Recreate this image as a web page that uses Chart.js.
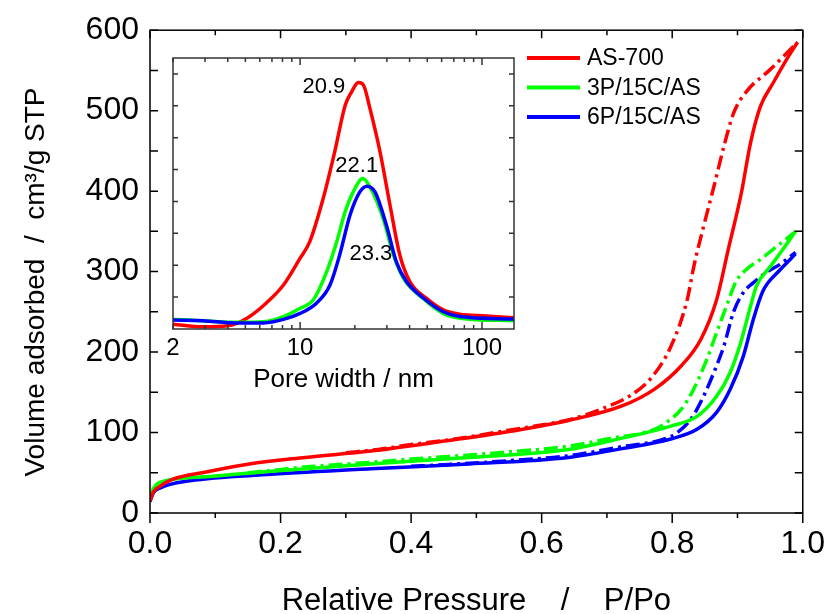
<!DOCTYPE html>
<html>
<head>
<meta charset="utf-8">
<title>N2 isotherms</title>
<script src="https://cdn.jsdelivr.net/npm/chart.js@4.4.1/dist/chart.umd.min.js"></script>
<style>
  body { margin: 0; background: #fff; }
  #wrap { position: relative; width: 837px; height: 614px; }
  #main { position: absolute; left: 0; top: 0; }
  #inset { position: absolute; left: 140px; top: 50px; }
</style>
</head>
<body>
<div id="wrap">
  <canvas id="main" width="837" height="614"></canvas>
  <canvas id="inset" width="400" height="350"></canvas>
</div>
<script>
// ===== data =====
const P_TICKS = [0, 0.2, 0.4, 0.6, 0.8, 1.0];
const V_TICKS = [0, 100, 200, 300, 400, 500, 600];
const D_TICKS = [2, 10, 100];
const SAMPLES = ['AS-700', '3P/15C/AS', '6P/15C/AS'];
const SAMPLE_COLORS = ['#ff0000', '#00ff00', '#0000ff'];

// AS-700 isotherm
const AS700_ADS_P = [0, 0.005, 0.015, 0.035, 0.086, 0.152, 0.238, 0.338, 0.439, 0.541, 0.641, 0.723, 0.773, 0.814, 0.844, 0.868, 0.886, 0.906, 0.920, 0.935, 0.955, 0.974, 0.992];
const AS700_ADS_V = [15, 26, 33, 42, 51, 61, 69, 77, 88, 100, 115, 133, 154, 183, 216, 265, 328, 398, 460, 505, 535, 562, 585];
const AS700_DES_P = [0.30, 0.35, 0.40, 0.45, 0.50, 0.55, 0.59, 0.647, 0.697, 0.738, 0.768, 0.798, 0.823, 0.833, 0.848, 0.864, 0.879, 0.894, 0.914, 0.950, 0.992];
const AS700_DES_V = [75, 79, 85, 90, 96, 103, 108, 117, 131, 147, 168, 207, 265, 306, 356, 406, 455, 497, 524, 551, 585];

// 3P/15C/AS isotherm
const P3_ADS_P = [0, 0.005, 0.015, 0.086, 0.186, 0.338, 0.489, 0.641, 0.723, 0.798, 0.838, 0.868, 0.889, 0.905, 0.920, 0.929, 0.950, 0.970, 0.989];
const P3_ADS_V = [20, 30, 38, 45, 52, 61, 69, 79, 93, 108, 120, 145, 175, 212, 257, 282, 306, 328, 350];
const P3_DES_P = [0.15, 0.186, 0.25, 0.338, 0.40, 0.489, 0.55, 0.641, 0.70, 0.773, 0.792, 0.814, 0.833, 0.853, 0.868, 0.883, 0.898, 0.914, 0.935, 0.955, 0.974, 0.989];
const P3_DES_V = [50, 53, 58, 63, 67, 72, 76, 83, 92, 104, 113, 129, 154, 191, 224, 257, 288, 303, 315, 328, 340, 350];

// 6P/15C/AS isotherm
const P6_ADS_P = [0, 0.005, 0.015, 0.061, 0.186, 0.338, 0.489, 0.641, 0.723, 0.798, 0.838, 0.868, 0.889, 0.909, 0.924, 0.939, 0.965, 0.989];
const P6_ADS_V = [14, 25, 31, 40, 48, 55, 61, 69, 80, 92, 104, 125, 154, 195, 240, 276, 302, 322];
const P6_DES_P = [0.40, 0.45, 0.55, 0.64, 0.72, 0.788, 0.808, 0.829, 0.848, 0.864, 0.879, 0.894, 0.909, 0.924, 0.944, 0.965, 0.989];
const P6_DES_V = [58, 60, 65, 71, 82, 92, 100, 117, 145, 175, 207, 250, 274, 286, 299, 309, 324];

// inset: pore size distribution (arbitrary units)
const AS700_PSD_D = [2, 2.92, 4.0, 5.1, 6.5, 8.1, 10.0, 11.3, 13.4, 15.5, 17.7, 19.2, 20.9, 22.3, 24.2, 27.5, 31.2, 35.3, 40.1, 49.6, 61.2, 75.6, 106, 150];
const AS700_PSD_Y = [0.15, 0.07, 0.10, 0.34, 0.81, 1.38, 2.22, 2.74, 4.10, 5.56, 7.02, 7.44, 7.73, 7.65, 6.92, 5.56, 3.89, 2.33, 1.49, 0.96, 0.60, 0.46, 0.41, 0.35];
const P3_PSD_D = [2, 2.92, 4.48, 6.3, 8.1, 10.0, 11.8, 14.0, 15.9, 17.7, 19.6, 22.1, 24.2, 28.6, 32.6, 37.0, 47.4, 61.2, 75.6, 150];
const P3_PSD_Y = [0.30, 0.26, 0.21, 0.23, 0.39, 0.65, 0.91, 1.80, 2.74, 3.68, 4.30, 4.72, 4.46, 3.47, 2.32, 1.59, 0.96, 0.49, 0.34, 0.26];
const P6_PSD_D = [2, 2.92, 4.48, 6.3, 8.1, 10.0, 12.3, 14.6, 16.5, 18.8, 21.3, 23.3, 25.8, 29.8, 33.8, 38.5, 47.4, 61.2, 75.6, 150];
const P6_PSD_Y = [0.28, 0.26, 0.19, 0.19, 0.30, 0.49, 0.81, 1.38, 2.32, 3.57, 4.30, 4.48, 4.30, 3.26, 2.11, 1.48, 0.98, 0.54, 0.39, 0.31];
const PEAK_LABELS = ['20.9', '22.1', '23.3'];

const FONT = "'Liberation Sans', Arial, Helvetica, sans-serif";

function toXY(xs, ys) {
  return xs.map((x, i) => ({ x: x, y: ys[i] }));
}

function lineSet(data, color, dashed) {
  return {
    data: data,
    borderColor: color,
    borderWidth: 3.5,
    borderDash: dashed ? [14, 5, 3, 5] : [],
    pointRadius: 0,
    fill: false,
    cubicInterpolationMode: 'monotone',
  };
}

// ===== main chart: frame, ticks, titles, legend =====
const mainDecor = {
  id: 'mainDecor',
  afterDraw(chart) {
    const { ctx, chartArea: a, scales: { x, y } } = chart;
    ctx.save();
    ctx.strokeStyle = '#000';
    ctx.lineWidth = 1.5;
    ctx.strokeRect(a.left, a.top, a.right - a.left, a.bottom - a.top);

    ctx.beginPath();
    P_TICKS.forEach((v, i) => {
      const px = x.getPixelForValue(v);
      ctx.moveTo(px, a.bottom); ctx.lineTo(px, a.bottom + 10);
      ctx.moveTo(px, a.top); ctx.lineTo(px, a.top + 8);
      if (i < P_TICKS.length - 1) {
        const pm = x.getPixelForValue((v + P_TICKS[i + 1]) / 2);
        ctx.moveTo(pm, a.bottom); ctx.lineTo(pm, a.bottom + 5);
        ctx.moveTo(pm, a.top); ctx.lineTo(pm, a.top + 5);
      }
    });
    V_TICKS.forEach((v, i) => {
      const marks = [v];
      if (i < V_TICKS.length - 1) marks.push((v + V_TICKS[i + 1]) / 2);
      marks.forEach(m => {
        const py = y.getPixelForValue(m);
        ctx.moveTo(a.left, py); ctx.lineTo(a.left + 8, py);
        ctx.moveTo(a.right, py); ctx.lineTo(a.right - 8, py);
      });
    });
    ctx.stroke();

    // axis titles
    ctx.fillStyle = '#000';
    ctx.font = `31px ${FONT}`;
    ctx.textAlign = 'center';
    ctx.textBaseline = 'alphabetic';
    ctx.fillText('Relative Pressure    /    P/Po', (a.left + a.right) / 2, 610);

    ctx.save();
    ctx.translate(36, 282);
    ctx.rotate(-Math.PI / 2);
    ctx.font = `28px ${FONT}`;
    ctx.textBaseline = 'middle';
    ctx.fillText('Volume adsorbed  /  cm\u00b3/g STP', 0, 0);
    ctx.restore();

    // legend
    ctx.font = `23px ${FONT}`;
    ctx.textAlign = 'left';
    ctx.textBaseline = 'middle';
    ctx.lineWidth = 4;
    SAMPLES.forEach((name, i) => {
      const ly = 58 + i * 29.5;
      ctx.strokeStyle = SAMPLE_COLORS[i];
      ctx.beginPath();
      ctx.moveTo(527, ly); ctx.lineTo(580, ly);
      ctx.stroke();
      ctx.fillText(name, 587, ly + 1);
    });
    ctx.restore();
  }
};

new Chart(document.getElementById('main'), {
  type: 'line',
  data: {
    datasets: [
      lineSet(toXY(AS700_ADS_P, AS700_ADS_V), SAMPLE_COLORS[0], false),
      lineSet(toXY(AS700_DES_P, AS700_DES_V), SAMPLE_COLORS[0], true),
      lineSet(toXY(P3_ADS_P, P3_ADS_V), SAMPLE_COLORS[1], false),
      lineSet(toXY(P3_DES_P, P3_DES_V), SAMPLE_COLORS[1], true),
      lineSet(toXY(P6_ADS_P, P6_ADS_V), SAMPLE_COLORS[2], false),
      lineSet(toXY(P6_DES_P, P6_DES_V), SAMPLE_COLORS[2], true),
    ]
  },
  options: {
    responsive: false,
    animation: false,
    devicePixelRatio: 1,
    layout: { padding: { left: 0, right: 27, top: 29, bottom: 0 } },
    plugins: { legend: { display: false }, tooltip: { enabled: false } },
    scales: {
      x: {
        type: 'linear', min: 0, max: 1,
        afterBuildTicks: s => { s.ticks = P_TICKS.map(v => ({ value: v })); },
        afterFit: s => { s.height = 101; },
        grid: { display: false, drawTicks: false },
        border: { display: false },
        ticks: { color: '#000', font: { family: FONT, size: 32 }, padding: 12, maxRotation: 0, autoSkip: false,
                 callback: v => v.toFixed(1) },
      },
      y: {
        type: 'linear', min: 0, max: 600,
        afterBuildTicks: s => { s.ticks = V_TICKS.map(v => ({ value: v })); },
        afterFit: s => { s.width = 150; },
        grid: { display: false, drawTicks: false },
        border: { display: false },
        ticks: { color: '#000', font: { family: FONT, size: 32 }, padding: 11, autoSkip: false },
      }
    }
  },
  plugins: [mainDecor]
});

// ===== inset: pore size distribution =====
const insetDecor = {
  id: 'insetDecor',
  afterDraw(chart) {
    const { ctx, chartArea: a, scales: { x, y } } = chart;
    ctx.save();
    ctx.strokeStyle = '#333';
    ctx.lineWidth = 1.5;
    ctx.strokeRect(a.left, a.top, a.right - a.left, a.bottom - a.top);

    ctx.beginPath();
    [1, 10, 100].forEach(dec => {
      for (let m = 1; m <= 9; m++) {
        const d = dec * m;
        if (d < x.min || d > x.max) continue;
        const px = x.getPixelForValue(d);
        const len = m === 1 ? 7 : 4;
        ctx.moveTo(px, a.bottom); ctx.lineTo(px, a.bottom - len);
        ctx.moveTo(px, a.top); ctx.lineTo(px, a.top + len);
      }
    });
    for (let v = 1; v < y.max; v++) {
      const py = y.getPixelForValue(v);
      ctx.moveTo(a.left, py); ctx.lineTo(a.left + 5, py);
      ctx.moveTo(a.right, py); ctx.lineTo(a.right - 5, py);
    }
    ctx.stroke();

    ctx.fillStyle = '#000';
    ctx.font = `26px ${FONT}`;
    ctx.textAlign = 'center';
    ctx.textBaseline = 'middle';
    ctx.fillText('Pore width / nm', (a.left + a.right) / 2, 330);

    // peak annotations, anchored to each curve's maximum
    ctx.font = `22px ${FONT}`;
    const sets = chart.data.datasets;
    const offsets = [[-13, 4, 'right'], [-6, -13, 'center'], [4, 68, 'center']];
    sets.forEach((ds, i) => {
      const peak = ds.data.reduce((b, p) => (p.y > b.y ? p : b));
      const px = x.getPixelForValue(peak.x);
      const py = y.getPixelForValue(peak.y);
      ctx.textAlign = offsets[i][2];
      ctx.fillText(PEAK_LABELS[i], px + offsets[i][0], py + offsets[i][1]);
    });
    ctx.restore();
  }
};

const insetSets = [
  lineSet(toXY(AS700_PSD_D, AS700_PSD_Y), SAMPLE_COLORS[0], false),
  lineSet(toXY(P3_PSD_D, P3_PSD_Y), SAMPLE_COLORS[1], false),
  lineSet(toXY(P6_PSD_D, P6_PSD_Y), SAMPLE_COLORS[2], false),
];
insetSets.forEach((ds, i) => { ds.order = 3 - i; });

new Chart(document.getElementById('inset'), {
  type: 'line',
  data: { datasets: insetSets },
  options: {
    responsive: false,
    animation: false,
    devicePixelRatio: 1,
    layout: { padding: { left: 0, right: 26, top: 8, bottom: 0 } },
    plugins: { legend: { display: false }, tooltip: { enabled: false } },
    scales: {
      x: {
        type: 'logarithmic', min: 2, max: 150,
        afterBuildTicks: s => { s.ticks = D_TICKS.map(v => ({ value: v })); },
        afterFit: s => { s.height = 71; },
        grid: { display: false, drawTicks: false },
        border: { display: false },
        ticks: { color: '#000', font: { family: FONT, size: 24 }, padding: 5, maxRotation: 0, autoSkip: false,
                 callback: v => String(v) },
      },
      y: {
        type: 'linear', min: 0, max: 8.5,
        afterFit: s => { s.width = 33; },
        grid: { display: false, drawTicks: false },
        border: { display: false },
        ticks: { display: false },
      }
    }
  },
  plugins: [insetDecor]
});
</script>
</body>
</html>
